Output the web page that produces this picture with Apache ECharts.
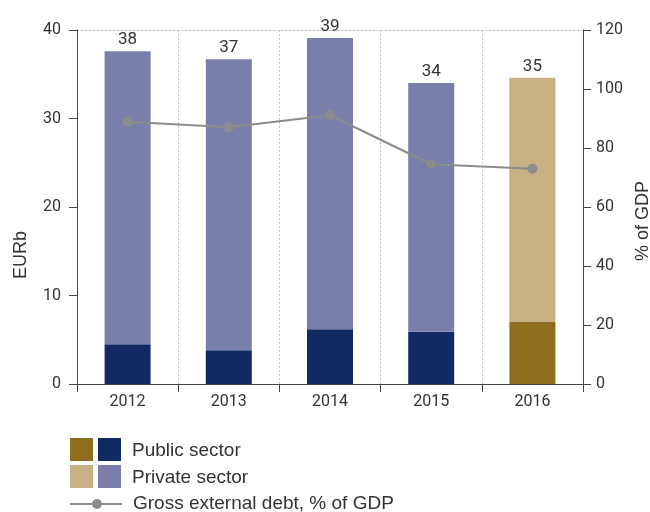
<!DOCTYPE html>
<html>
<head>
<meta charset="utf-8">
<script src="https://cdn.jsdelivr.net/npm/echarts@6/dist/echarts.min.js"></script>
<style>
  html, body { margin: 0; padding: 0; background: #fff; }
  #chart { width: 650px; height: 512px; }
</style>
</head>
<body>
<div id="chart"></div>
<script>
// Gross external debt by sector, EUR billions, with debt as % of GDP
const years = ['2012', '2013', '2014', '2015', '2016'];
const publicSector = [4.5, 3.8, 6.2, 5.9, 7.0];
const privateSector = [33.1, 32.9, 32.9, 28.1, 27.6];
const debtPctGdp = [88.9, 87.0, 91.1, 74.5, 73.0];
const leftTicks = { min: 0, max: 40, interval: 10 };
const rightTicks = { min: 0, max: 120, interval: 20 };

// the last year is a forecast and gets its own palette
const forecastIndex = 4;
const colors = {
  publicActual: '#112a62',
  privateActual: '#7a7eaa',
  publicForecast: '#8f6d1f',
  privateForecast: '#c6b084',
  line: '#8c8c8c',
  text: '#333333',
  axis: '#444444',
  grid: '#c4c4c4'
};
const FONT = 'Roboto';
const TITLE_FONT = '"Liberation Sans"';

const chart = echarts.init(document.getElementById('chart'), null, { renderer: 'canvas' });

const publicData = publicSector.map((v, i) => ({
  value: v,
  itemStyle: { color: i === forecastIndex ? colors.publicForecast : colors.publicActual }
}));
const privateData = privateSector.map((v, i) => ({
  value: v,
  itemStyle: { color: i === forecastIndex ? colors.privateForecast : colors.privateActual }
}));

const axisLabelStyle = { color: colors.text, fontFamily: FONT, fontSize: 16 };

// legend and axis titles
const legendRows = [
  { y: 449.5, label: 'Public sector', swatches: [colors.publicForecast, colors.publicActual] },
  { y: 476.5, label: 'Private sector', swatches: [colors.privateForecast, colors.privateActual] }
];
const graphics = [];
legendRows.forEach(row => {
  row.swatches.forEach((c, k) => {
    graphics.push({
      type: 'rect', left: 70 + k * 28, top: row.y - 11.5,
      shape: { width: 23, height: 23 }, style: { fill: c }
    });
  });
  graphics.push({
    type: 'text', x: 132, y: row.y + 1,
    style: { text: row.label, fill: colors.text, font: '19px ' + TITLE_FONT, verticalAlign: 'middle' }
  });
});
graphics.push({
  type: 'line', shape: { x1: 70, y1: 504, x2: 122, y2: 504 },
  style: { stroke: colors.line, lineWidth: 2 }
});
graphics.push({
  type: 'circle', shape: { cx: 97, cy: 504, r: 5 }, style: { fill: colors.line }
});
graphics.push({
  type: 'text', x: 133, y: 504,
  style: { text: 'Gross external debt, % of GDP', fill: colors.text, font: '19px ' + TITLE_FONT, verticalAlign: 'middle' }
});
graphics.push({
  type: 'text', x: 21, y: 255, rotation: Math.PI / 2,
  style: { text: 'EURb', fill: colors.text, font: '18px ' + TITLE_FONT, align: 'center', verticalAlign: 'middle' }
});
graphics.push({
  type: 'text', x: 643, y: 221, rotation: Math.PI / 2,
  style: { text: '% of GDP', fill: colors.text, font: '18px ' + TITLE_FONT, align: 'center', verticalAlign: 'middle' }
});

chart.setOption({
  animation: false,
  backgroundColor: '#ffffff',
  grid: { left: 77, right: 67, top: 30, bottom: 128, containLabel: false },
  xAxis: [
    {
      type: 'category',
      data: years,
      position: 'bottom',
      axisLine: { lineStyle: { color: colors.axis, width: 1 } },
      axisTick: { show: true, alignWithLabel: false, length: 8, lineStyle: { color: colors.axis } },
      axisLabel: Object.assign({ margin: 10 }, axisLabelStyle),
      splitLine: {
        show: true, showMinLine: false, showMaxLine: false,
        lineStyle: { color: colors.grid, type: [2, 2], width: 1 }
      },
      z: 3
    },
    {
      type: 'category',
      data: years,
      position: 'top',
      axisLine: { show: true, onZero: false, lineStyle: { color: colors.grid, type: [2, 2], width: 1 } },
      axisTick: { show: false },
      axisLabel: { show: false },
      splitLine: { show: false }
    }
  ],
  yAxis: [
    {
      type: 'value',
      position: 'left',
      min: leftTicks.min, max: leftTicks.max, interval: leftTicks.interval,
      axisLine: { show: true, onZero: false, lineStyle: { color: colors.axis, width: 1 } },
      axisTick: { show: true, length: 8, lineStyle: { color: colors.axis } },
      axisLabel: Object.assign({ margin: 16 }, axisLabelStyle),
      splitLine: { show: false },
      z: 4
    },
    {
      type: 'value',
      position: 'right',
      min: rightTicks.min, max: rightTicks.max, interval: rightTicks.interval,
      axisLine: { show: true, onZero: false, lineStyle: { color: colors.axis, width: 1 } },
      axisTick: { show: true, length: 8, lineStyle: { color: colors.axis } },
      axisLabel: Object.assign({ margin: 13 }, axisLabelStyle),
      splitLine: { show: false },
      z: 4
    }
  ],
  series: [
    {
      name: 'Public sector',
      type: 'bar',
      stack: 'debt',
      barWidth: 46,
      data: publicData
    },
    {
      name: 'Private sector',
      type: 'bar',
      stack: 'debt',
      barWidth: 46,
      data: privateData,
      label: {
        show: true,
        position: 'top',
        distance: 3,
        color: colors.text,
        fontFamily: FONT,
        fontSize: 17,
        formatter: p => String(Math.round(publicSector[p.dataIndex] + privateSector[p.dataIndex]))
      }
    },
    {
      name: 'Gross external debt, % of GDP',
      type: 'line',
      yAxisIndex: 1,
      data: debtPctGdp,
      symbol: 'circle',
      symbolSize: 10,
      itemStyle: { color: colors.line },
      lineStyle: { color: colors.line, width: 2 },
      z: 5
    }
  ],
  graphic: graphics
});
</script>
</body>
</html>
